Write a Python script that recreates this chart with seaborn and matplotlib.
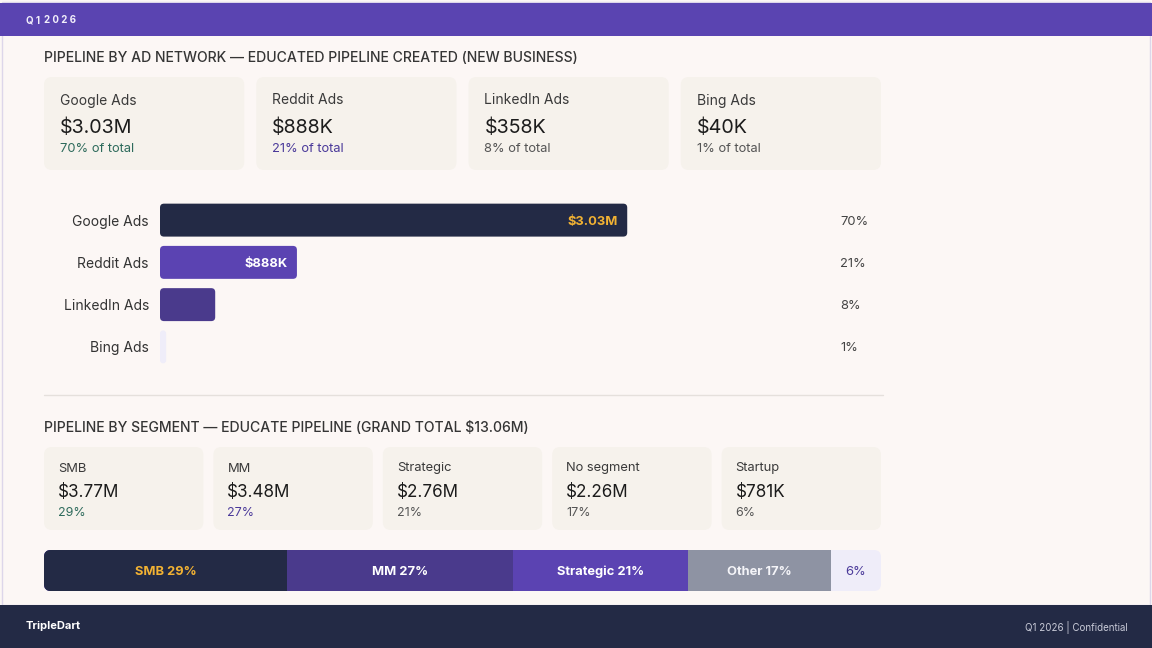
import numpy as np
import pandas as pd
import seaborn as sns
import matplotlib.pyplot as plt
from matplotlib.patches import FancyBboxPatch, Rectangle

# ---- data ----
networks = ["Google Ads", "Reddit Ads", "LinkedIn Ads", "Bing Ads"]
network_values = [3.03, 0.888, 0.358, 0.040]  # $M
network_labels = ["$3.03M", "$888K", "$358K", "$40K"]
network_pcts = ["70%", "21%", "8%", "1%"]

segments = ["SMB", "MM", "Strategic", "No segment", "Startup"]
segment_labels = ["$3.77M", "$3.48M", "$2.76M", "$2.26M", "$781K"]
segment_share = [29, 27, 21, 17, 6]  # % of grand total
strip_labels = ["SMB 29%", "MM 27%", "Strategic 21%", "Other 17%", "6%"]

# ---- colours ----
NAVY = "#232a45"
PURPLE = "#5b43b2"
INDIGO = "#4a3a8c"
GREY = "#8e93a3"
LAV = "#efedf9"
AMBER = "#f2b233"
BG = "#fcf7f5"
CARD = "#f6f2ec"
GREEN = "#2e6b5c"
SUB = "#555555"

sns.set_theme(style="white")
plt.rcParams["font.family"] = ["Inter", "DejaVu Sans"]

W, H = 1152, 648
fig = plt.figure(figsize=(W / 100, H / 100), dpi=100)
fig.patch.set_facecolor(BG)

# overlay in pixel coordinates for the slide chrome
bg = fig.add_axes([0, 0, 1, 1])
bg.set_xlim(0, W)
bg.set_ylim(H, 0)
bg.axis("off")
bg.set_zorder(0)

bg.add_patch(Rectangle((2, 2), W - 4, 603, facecolor=BG, edgecolor="#ddd6ea", lw=1))
bg.add_patch(Rectangle((0, 3), W, 33, facecolor="#5a44b1", edgecolor="none"))
bg.text(26, 20, "Q 1", color="#f1eefa", fontsize=7, fontweight="bold",
        va="center", ha="left")
bg.text(44, 20, "2 0 2 6", color="#f1eefa", fontsize=7, fontweight="bold",
        va="center", ha="left")
bg.add_patch(Rectangle((0, 605), W, 43, facecolor=NAVY, edgecolor="none"))
bg.text(26, 626, "TripleDart", color="white", fontsize=8, fontweight="bold",
        va="center", ha="left")
bg.text(1128, 627, "Q1 2026 | Confidential", color="#c9cbd8", fontsize=7,
        va="center", ha="right")

bg.text(44, 58, "PIPELINE BY AD NETWORK — EDUCATED PIPELINE CREATED (NEW BUSINESS)",
        color="#353535", fontsize=10.1, fontweight="medium", va="center", ha="left")
bg.text(44, 428, "PIPELINE BY SEGMENT — EDUCATE PIPELINE (GRAND TOTAL $13.06M)",
        color="#353535", fontsize=10.1, fontweight="medium", va="center", ha="left")
bg.plot([44, 883], [395, 395], color="#e5e0dc", lw=1)


def card(x, y, w, h):
    bg.add_patch(FancyBboxPatch((x, y), w, h, boxstyle="round,pad=0,rounding_size=8",
                                facecolor=CARD, edgecolor="none"))


# top cards
net_pct_colors = [GREEN, "#4b3a9a", SUB, SUB]
cw = (837 - 3 * 12) / 4
for i in range(4):
    x0 = 44 + i * (cw + 12)
    card(x0, 77, cw, 93)
    bg.text(x0 + 16, 100.5, networks[i], color="#3a3a3a", fontsize=10, va="center")
    bg.text(x0 + 16, 127.5, network_labels[i], color="#1c1c1c", fontsize=14.2, va="center")
    bg.text(x0 + 16, 149.5, network_pcts[i] + " of total", color=net_pct_colors[i],
            fontsize=9.3, va="center")

# segment cards
seg_pct_colors = [GREEN, "#4b3a9a", SUB, SUB, SUB]
sw = (837 - 4 * 10) / 5
for i in range(5):
    x0 = 44 + i * (sw + 10)
    card(x0, 447, sw, 83)
    bg.text(x0 + 14, 468.5, segments[i], color="#3a3a3a", fontsize=9.3, va="center")
    bg.text(x0 + 14, 492.5, segment_labels[i], color="#1c1c1c", fontsize=12.3, va="center")
    bg.text(x0 + 14, 512.5, f"{segment_share[i]}%", color=seg_pct_colors[i], fontsize=9,
            va="center")

# ---- ad network bars (seaborn) ----
ax_l, ax_r, ax_t, ax_b = 160, 880, 199, 368
axb = fig.add_axes([ax_l / W, 1 - ax_b / H, (ax_r - ax_l) / W, (ax_b - ax_t) / H])
axb.patch.set_alpha(0)
df = pd.DataFrame({"network": networks, "value": network_values})
bar_colors = [NAVY, PURPLE, INDIGO, LAV]
sns.barplot(data=df, y="network", x="value", hue="network", palette=bar_colors,
            legend=False, ax=axb, width=0.78, saturation=1, order=networks)
xmax = (ax_r - ax_l) / 154.2
axb.set_xlim(0, xmax)
axb.set_ylim(3.5, -0.5)
xpp = xmax / (ax_r - ax_l)
ypp = 4.0 / (ax_b - ax_t)

rects = sorted(axb.patches, key=lambda p: p.get_y())
for p in rects:
    x, y, w, h = p.get_x(), p.get_y(), p.get_width(), p.get_height()
    r = min(4 * xpp, w / 2)
    fb = FancyBboxPatch((x, y), w, h, boxstyle=f"round,pad=0,rounding_size={r}",
                        mutation_aspect=ypp / xpp, facecolor=p.get_facecolor(),
                        edgecolor="none")
    p.set_visible(False)
    axb.add_patch(fb)

inner_colors = [AMBER, "white", "white", "white"]
for i, v in enumerate(network_values):
    if v / xpp > 90:
        axb.annotate(network_labels[i], (v, i), xytext=(-9, -1.5), textcoords="offset pixels",
                     ha="right", va="center", color=inner_colors[i], fontsize=9.3,
                     fontweight="bold")
    axb.annotate(network_pcts[i], ((840 - ax_l) / (ax_r - ax_l), i), xytext=(0, -1.5),
                 textcoords="offset pixels", xycoords=axb.get_yaxis_transform(),
                 ha="left", va="center", color="#444444", fontsize=9.3)

axb.set_xlabel("")
axb.set_ylabel("")
axb.set_xticks([])
axb.tick_params(axis="y", length=0, pad=8, labelsize=10, labelcolor="#333333")
sns.despine(ax=axb, left=True, bottom=True)

# ---- segment strip (seaborn, cumulative overlay) ----
s_l, s_r, s_t, s_b = 44, 881, 550, 591
axs = fig.add_axes([s_l / W, 1 - s_b / H, (s_r - s_l) / W, (s_b - s_t) / H])
axs.patch.set_alpha(0)
strip_colors = [NAVY, INDIGO, PURPLE, GREY, LAV]
cum = np.cumsum(segment_share)
total = cum[-1]
for i in reversed(range(len(segment_share))):
    sns.barplot(x=[cum[i]], y=["seg"], color=strip_colors[i], saturation=1,
                width=1.0, ax=axs, orient="h", linewidth=0)
axs.set_xlim(0, total)
axs.set_ylim(0.5, -0.5)
clip = FancyBboxPatch((0, 0), 1, 1, boxstyle=f"round,pad=0,rounding_size={7 / (s_r - s_l)}",
                      mutation_aspect=(s_r - s_l) / (s_b - s_t), transform=axs.transAxes,
                      facecolor="none", edgecolor="none")
axs.add_patch(clip)
for p in axs.patches:
    p.set_clip_path(clip)

strip_text = [AMBER, "white", "white", "#f4f4f8", "#4b3a9a"]
for i, v in enumerate(segment_share):
    axs.annotate(strip_labels[i], (cum[i] - v / 2, 0), xytext=(0, -1.5),
                 textcoords="offset pixels", ha="center", va="center",
                 color=strip_text[i], fontsize=9.3,
                 fontweight="normal" if i == 4 else "bold")
axs.set_xlabel("")
axs.set_ylabel("")
axs.set_xticks([])
axs.set_yticks([])
sns.despine(ax=axs, left=True, bottom=True)

fig.savefig("out.png", dpi=100, facecolor=fig.get_facecolor())
